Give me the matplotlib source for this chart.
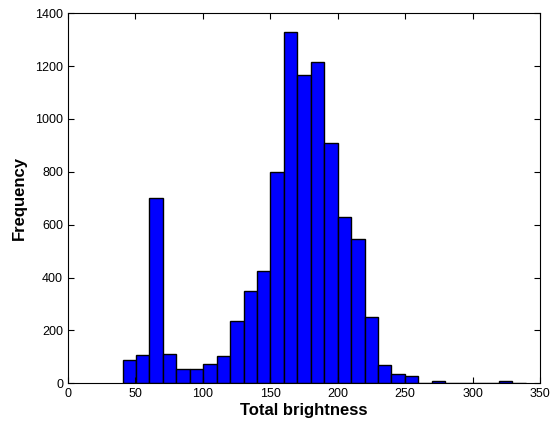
import matplotlib
matplotlib.use("Agg")
import matplotlib.pyplot as plt
import numpy as np

plt.rcParams['font.family'] = ['Liberation Sans', 'DejaVu Sans']

# histogram counts, 30 bins between min and max brightness
bin_lo, bin_hi = 40.5, 339.5
counts = [88, 106, 700, 111, 53, 53, 74, 102, 237, 348,
          426, 800, 1328, 1168, 1215, 910, 630, 546, 250, 69,
          36, 28, 3, 9, 3, 3, 3, 3, 9, 3]

edges = np.linspace(bin_lo, bin_hi, len(counts) + 1)
fig = plt.figure(figsize=(5.5, 4.28), dpi=100)
ax = fig.add_axes([0.1236, 0.1044, 0.8582, 0.8646])

ax.bar(edges[:-1], counts, width=np.diff(edges), align='edge',
       color='#0000ff', edgecolor='black', linewidth=1.0)

ax.set_xlim(0, 350)
ax.set_ylim(0, 1400)
ax.set_xticks(np.arange(0, 351, 50))
ax.set_yticks(np.arange(0, 1401, 200))
ax.tick_params(direction='in', top=True, right=True, labelsize=9, length=4)
for s in ax.spines.values():
    s.set_linewidth(0.8)

ax.set_xlabel('Total brightness', fontsize=12, fontweight='bold', labelpad=2)
ax.set_ylabel('Frequency', fontsize=12, fontweight='bold', labelpad=6)

fig.savefig('out.png', dpi=100)
